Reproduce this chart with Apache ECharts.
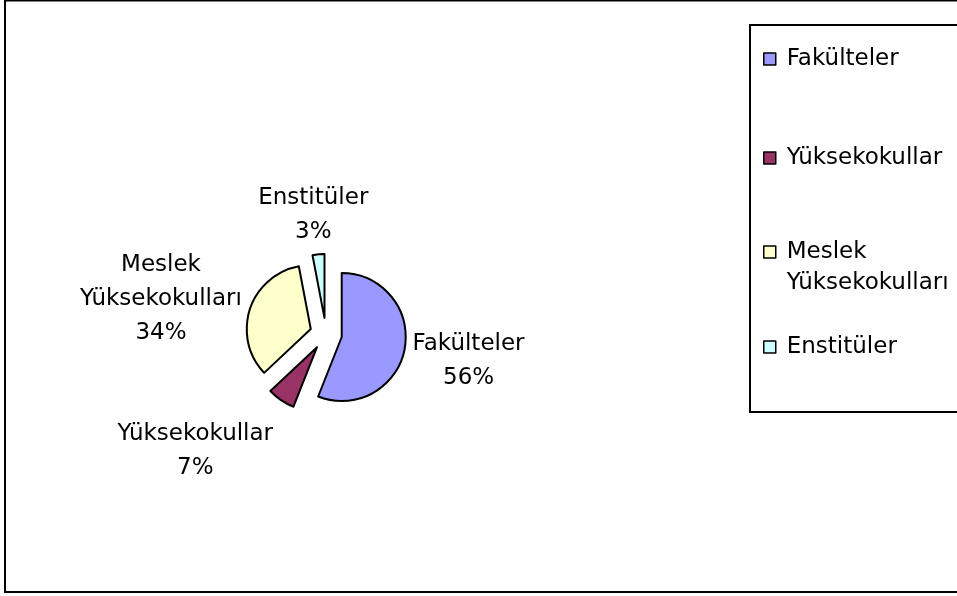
<!DOCTYPE html>
<html>
<head>
<meta charset="utf-8">
<script src="https://cdn.jsdelivr.net/npm/echarts@6/dist/echarts.min.js"></script>
<style>
  html, body { margin: 0; padding: 0; background: #fff; }
  #chart { width: 957px; height: 596px; }
</style>
</head>
<body>
<div id="chart"></div>
<script>
// data
const categories = ['Fakülteler', 'Yüksekokullar', 'Meslek Yüksekokulları', 'Enstitüler'];
const labelNames = ['Fakülteler', 'Yüksekokullar', 'Meslek\nYüksekokulları', 'Enstitüler'];
const values = [56, 7, 34, 3];
const colors = ['#9999FF', '#993366', '#FFFFCC', '#CCFFFF'];

// pie geometry
const CX = 326, CY = 334, R = 64, OFF = 16;
const FONT = 'DejaVu Sans';
const FS = 23, LH = 34;
const LABEL_DY = 6; // font baseline sits a bit lower in the original

const chart = echarts.init(document.getElementById('chart'), null, { renderer: 'canvas' });

const total = values.reduce((a, b) => a + b, 0);
function midDir(i) {
  let before = 0;
  for (let k = 0; k < i; k++) before += values[k];
  const a = (before + values[i] / 2) / total * Math.PI * 2;
  return [Math.sin(a), -Math.cos(a)];
}
function labelText(i) {
  return labelNames[i] + '\n' + Math.round(values[i] / total * 100) + '%';
}
// measure label size ourselves
const ctx = document.createElement('canvas').getContext('2d');
ctx.font = FS + 'px "' + FONT + '"';
function textSize(s) {
  const lines = s.split('\n');
  const w = Math.max.apply(null, lines.map(l => ctx.measureText(l).width));
  return [w, lines.length * LH];
}

// one legend per entry (Excel spreads them down the box)
const legendCenters = [59, 158, 252, 347];
const LLH = 31;
const legends = categories.map((name, i) => {
  const multi = i === 2;
  return {
    data: [name],
    orient: 'vertical',
    left: 763,
    top: multi ? legendCenters[i] - LLH * 1.5 : legendCenters[i] - LLH / 2,
    padding: 0,
    icon: 'rect',
    itemWidth: 12,
    itemHeight: 12,
    selectedMode: false,
    itemStyle: { borderColor: '#000', borderWidth: 1.5 },
    // blank first line keeps the marker level with "Meslek"
    formatter: n => (n === categories[2] ? '\nMeslek\nYüksekokulları' : n),
    textStyle: {
      fontFamily: FONT,
      fontSize: FS,
      color: '#000',
      lineHeight: LLH,
      padding: [0, 0, 0, 6],
    },
  };
});

const pieData = categories.map((name, i) => ({ name: name, value: values[i] }));

const option = {
  animation: false,
  color: colors,
  legend: legends,
  graphic: [
    {
      type: 'rect',
      shape: { x: 5, y: 0.5, width: 1000, height: 591.5 },
      style: { fill: 'none', stroke: '#000', lineWidth: 2 },
      z: -1,
    },
    {
      type: 'rect',
      shape: { x: 750, y: 25, width: 300, height: 387 },
      style: { fill: 'none', stroke: '#000', lineWidth: 2 },
      z: -1,
    },
  ],
  series: [
    {
      // exploded slices
      type: 'pie',
      center: [CX, CY],
      radius: [0, R],
      startAngle: 90,
      clockwise: true,
      selectedMode: 'multiple',
      selectedOffset: OFF,
      itemStyle: { borderColor: '#000', borderWidth: 2 },
      select: { itemStyle: { borderColor: '#000', borderWidth: 2 } },
      emphasis: { disabled: true },
      label: { show: false },
      labelLine: { show: false },
      data: pieData.map(d => Object.assign({ selected: true }, d)),
    },
    {
      // same slices, invisible, only carrying the data labels
      type: 'pie',
      center: [CX, CY],
      radius: [0, R],
      startAngle: 90,
      clockwise: true,
      silent: true,
      selectedMode: false,
      avoidLabelOverlap: false,
      itemStyle: { color: 'rgba(0,0,0,0)', borderWidth: 0 },
      emphasis: { disabled: true },
      label: {
        show: true,
        position: 'outside',
        fontFamily: FONT,
        fontSize: FS,
        lineHeight: LH,
        color: '#000',
        align: 'center',
        formatter: p => labelText(p.dataIndex),
      },
      labelLine: { show: false },
      labelLayout: function (p) {
        const i = p.dataIndex;
        const d = midDir(i);
        const px = CX + d[0] * (R + OFF);
        const py = CY + d[1] * (R + OFF);
        const sz = textSize(labelText(i));
        const w = sz[0], h = sz[1];
        const x = Math.abs(d[0]) > 0.5 ? px + Math.sign(d[0]) * (w / 2 + 8) : px + d[0] * w / 2;
        const y = Math.abs(d[1]) > 0.5 ? py + Math.sign(d[1]) * (h / 2 + 11) : py + d[1] * h / 2;
        return { x: x, y: y + LABEL_DY, align: 'center', verticalAlign: 'middle' };
      },
      data: pieData,
    },
  ],
};

chart.setOption(option);
window.addEventListener('resize', () => chart.resize());
</script>
</body>
</html>
